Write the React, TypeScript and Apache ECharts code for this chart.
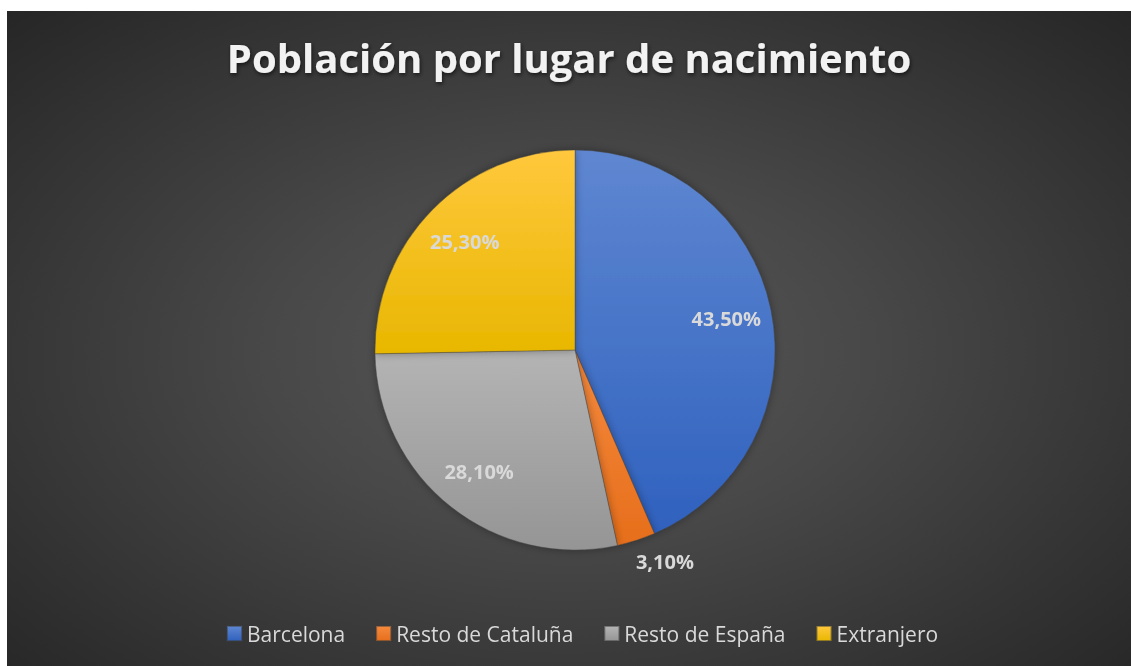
import React, { useEffect, useRef } from "react";
import * as echarts from "echarts";

const titleText = "Población por lugar de nacimiento";
const categories = ["Barcelona", "Resto de Cataluña", "Resto de España", "Extranjero"];
const values = [43.5, 3.1, 28.1, 25.3];
const colorTop = ["#5f87d1", "#f58a3e", "#b4b4b4", "#ffc83d"];
const colorBottom = ["#2f61be", "#e66e1b", "#959595", "#e8b700"];

export default function App() {
  const ref = useRef<HTMLDivElement>(null);
  useEffect(() => {
    if (!ref.current) return;
    const chart = echarts.init(ref.current, null, { renderer: "svg" });
    const cx = 568;
    const cy = 339;
    const data = categories.map((name, i) => ({
      name,
      value: values[i],
      itemStyle: {
        color: new echarts.graphic.LinearGradient(0, 0, 0, 1, [
          { offset: 0, color: colorTop[i] },
          { offset: 1, color: colorBottom[i] },
        ]),
      },
      label: i === 1 ? { position: "outside" } : { position: "inside" },
    }));
    chart.setOption({
      animation: false,
      backgroundColor: "transparent",
      title: {
        text: titleText,
        left: "center",
        top: 21,
        textStyle: {
          fontFamily: "Open Sans",
          fontWeight: "bold",
          fontSize: 40,
          color: "#f2f2f2",
          textShadowColor: "rgba(0,0,0,0.6)",
          textShadowBlur: 4,
          textShadowOffsetX: 1,
          textShadowOffsetY: 2,
        },
      },
      legend: {
        data: categories,
        top: 607,
        left: 214,
        itemWidth: 15,
        itemHeight: 15,
        itemGap: 30,
        icon: "rect",
        textStyle: {
          fontFamily: "Open Sans",
          fontSize: 21,
          color: "#d9d9d9",
        },
      },
      series: [
        {
          type: "pie",
          center: [cx, cy],
          radius: [0, 200],
          startAngle: 90,
          clockwise: true,
          data,
          itemStyle: {
            borderColor: "rgba(60,60,60,0.5)",
            borderWidth: 0.75,
            shadowBlur: 8,
            shadowColor: "rgba(0,0,0,0.35)",
          },
          label: {
            show: true,
            fontFamily: "Open Sans",
            fontWeight: "bold",
            fontSize: 20,
            color: "#d9d9d9",
            distanceToLabelLine: 0,
            formatter: (p: any) => p.value.toFixed(2).replace(".", ",") + "%",
          },
          labelLine: { show: false, length: 22, length2: 0 },
          labelLayout: (p: any) => {
            if (p.dataIndex === 1) return { dx: -7 };
            const r = p.labelRect;
            const lx = r.x + r.width / 2;
            const ly = r.y + r.height / 2;
            return {
              x: cx + (lx - cx) * 1.5,
              y: cy + (ly - cy) * 1.5,
              align: "center",
              verticalAlign: "middle",
            };
          },
          emphasis: { disabled: true },
        },
      ],
    });
    return () => chart.dispose();
  }, []);
  return (
    <div
      ref={ref}
      style={{
        position: "fixed",
        left: 7,
        top: 11,
        width: 1124,
        height: 655,
        background:
          "radial-gradient(ellipse farthest-corner at 50% 52%, #585858 0%, #484848 38%, #262626 100%)",
      }}
    />
  );
}
